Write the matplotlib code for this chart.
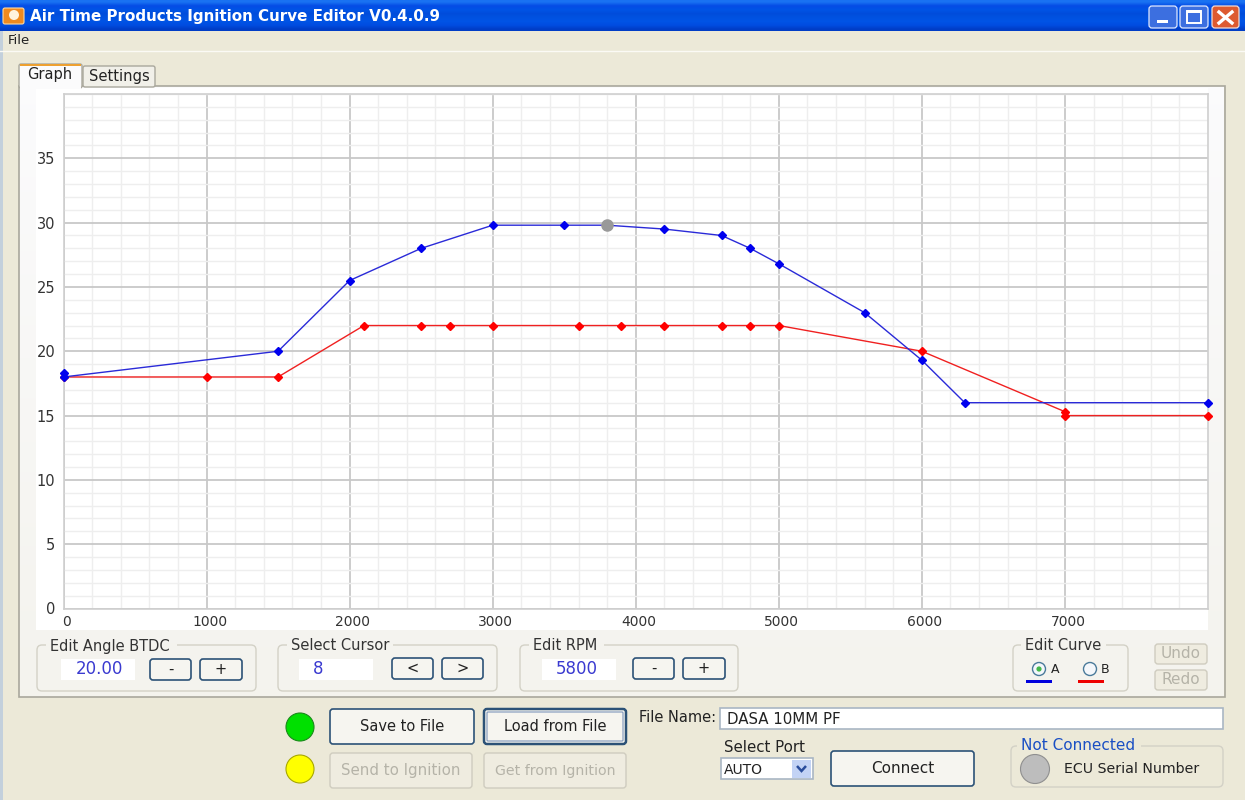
#!/usr/bin/env python3
"""Ignition curve editor window, redrawn with matplotlib"""

import matplotlib
matplotlib.use('Agg')
import matplotlib.pyplot as plt
import numpy as np
from matplotlib.patches import Circle, FancyBboxPatch, Polygon, Rectangle
from matplotlib.transforms import ScaledTranslation

# Curve data
rpm_a = [0, 0, 1500, 2000, 2500, 3000, 3500, 3800, 4200, 4600, 4800, 5000, 5600, 6000, 6300, 8000]
angle_a = [18.3, 18, 20, 25.5, 28, 29.8, 29.8, 29.8, 29.5, 29, 28, 26.8, 23, 19.3, 16, 16]
rpm_b = [0, 1000, 1500, 2100, 2500, 2700, 3000, 3600, 3900, 4200, 4600, 4800, 5000, 6000, 7000, 7000, 8000]
angle_b = [18, 18, 18, 22, 22, 22, 22, 22, 22, 22, 22, 22, 22, 20, 15.3, 15, 15]
cursor_rpm = [3800]
cursor_angle = [29.8]
x_ticks = [0, 1000, 2000, 3000, 4000, 5000, 6000, 7000]
y_ticks = [0, 5, 10, 15, 20, 25, 30, 35]

W, H = 1245, 800
BG = '#ece9d8'
PANEL = '#f4f3ee'
TEXT = '#333333'
FIELD_BLUE = '#3a3ad0'

fig = plt.figure(figsize=(W / 100, H / 100), dpi=100, facecolor=BG)

# Window chrome is laid out in screen pixels
ui = fig.add_axes([0, 0, 1, 1], zorder=0)
ui.axis('off')


def rect(x, y, w, h, fc, ec='none', lw=1.0, z=1):
    ui.add_patch(Rectangle((x, y), w, h, facecolor=fc, edgecolor=ec, linewidth=lw, zorder=z))


def rounded(x, y, w, h, fc, ec, lw=1.0, r=3, z=2):
    ui.add_patch(FancyBboxPatch((x + r, y + r), w - 2 * r, h - 2 * r,
                                boxstyle=f'round,pad={r},rounding_size={r}',
                                facecolor=fc, edgecolor=ec, linewidth=lw, zorder=z))


def label(x, y, s, size=10.5, color=TEXT, ha='center', weight='normal', z=5):
    ui.text(x, y, s, fontsize=size, color=color, ha=ha, va='center', weight=weight, zorder=z)


def button(x, y, w, h, s, enabled=True, focused=False, size=10.5):
    if enabled:
        rounded(x, y, w, h, '#f6f5f0', '#2c5277', lw=1.8 if focused else 1.2)
        if focused:
            rounded(x + 3, y + 3, w - 6, h - 6, 'none', '#7f97bb', lw=0.8, r=1, z=3)
        label(x + w / 2, y + h / 2, s, size=size, color='#222222')
    else:
        rounded(x, y, w, h, '#efece0', '#cfccbf', lw=1.0)
        label(x + w / 2, y + h / 2, s, size=size, color='#b5b3a8')


def group(x, y, w, h, s, gap_w, text_dx=13):
    rounded(x, y, w, h, 'none', '#d3d1c6', lw=1.0, r=5)
    rect(x + text_dx - 4, y - 2, gap_w + 8, 4, PANEL, z=3)
    label(x + text_dx, y + 1, s, size=10.5, ha='left')


# Title bar
blue = np.array([[0.10, 0.45, 0.95], [0.02, 0.30, 0.90], [0.0, 0.33, 0.90], [0.0, 0.30, 0.86],
                 [0.0, 0.32, 0.88], [0.0, 0.33, 0.90], [0.0, 0.30, 0.88], [0.0, 0.24, 0.78]])
ui.imshow(blue[:, None, :], extent=(0, W, 31, 0), aspect='auto', interpolation='bilinear', zorder=1)

# Tab pane fades from near white at the top to the panel grey at the bottom
top_col = np.array([0.985, 0.985, 0.99])
low_col = np.array([0.957, 0.953, 0.933])
fade = np.linspace(0, 1, 64)[:, None, None]
pane = top_col[None, None, :] * (1 - fade) + low_col[None, None, :] * fade
ui.imshow(pane, extent=(19, 1224, 697, 86), aspect='auto', interpolation='bilinear', zorder=1)
ui.set_xlim(0, W)
ui.set_ylim(H, 0)

rect(0, 31, 2.5, H - 31, '#c3d0dc', z=1)
rounded(3, 8, 21, 16, '#f08a1e', '#ffd9a0', lw=0.8, r=2)
ui.add_patch(Circle((14, 15), 5, facecolor='#fff3dd', edgecolor='none', zorder=3))
ui.text(30, 17, 'Air Time Products Ignition Curve Editor V0.4.0.9', fontsize=10.9, color='white',
        weight='bold', ha='left', va='center', zorder=5)

rounded(1149, 6, 28, 22, '#3c6fe0', '#dfe8ff', lw=0.9)
rect(1157, 20, 11, 3, 'white', z=3)
rounded(1180, 6, 28, 22, '#3c6fe0', '#dfe8ff', lw=0.9)
rect(1187, 11, 14, 12, 'none', ec='white', lw=1.4, z=3)
rect(1187, 10, 14, 3, 'white', z=3)
rounded(1212, 6, 27, 22, '#dd5a30', '#f4dcd2', lw=0.9)
ui.plot([1219, 1232], [12, 23], color='white', lw=2.4, zorder=4)
ui.plot([1219, 1232], [23, 12], color='white', lw=2.4, zorder=4)

# Menu bar
ui.plot([0, W], [50.5, 50.5], color='#fbfaf5', lw=1, zorder=2)
label(8, 40, 'File', size=9.5, color='#222222', ha='left')

# Tab pane and tabs
rect(18.5, 86, 1206, 611, 'none', ec='#a9a79c', lw=1.2, z=2)
rect(36, 88, 1172, 542, 'white', z=2)
rounded(83, 66, 72, 21, '#f1f0e9', '#a9a79c', lw=1.0, r=2)
label(119, 76.5, 'Settings', size=10.6, color='#222222')
rounded(19, 64, 63, 24, '#fbfbfc', '#a9a79c', lw=1.0, r=2)
rect(20, 64, 61, 2, '#eda030', z=4)
rect(20, 84, 61, 5, '#fbfbfc', z=4)
label(50, 74, 'Graph', size=10.5, color='#222222')

# Chart, on data scales
x0, x1, y0, y1 = 63.5, 1208, 94, 608.5
ax = fig.add_axes([x0 / W, 1 - y1 / H, (x1 - x0) / W, (y1 - y0) / H], zorder=2, facecolor='white')
ax.set_xlim(0, 8000)
ax.set_ylim(0, 40)
ax.set_xticks(x_ticks)
ax.set_yticks(y_ticks)
ax.set_xticks(np.arange(0, 8001, 200), minor=True)
ax.set_yticks(np.arange(0, 41, 1), minor=True)
ax.grid(True, which='minor', color='#eeeeee', lw=1.0)
ax.grid(True, which='major', color='#c8c8c8', lw=1.3)
ax.set_axisbelow(True)
ax.tick_params(which='both', length=0)
ax.tick_params(axis='x', pad=5, labelsize=10, labelcolor=TEXT)
ax.tick_params(axis='y', pad=6, labelsize=10.5, labelcolor=TEXT)
for side, spine in ax.spines.items():
    spine.set_color('#cfcfcf')
    spine.set_linewidth(1.2)
shift = ScaledTranslation(3 / 100, 0, fig.dpi_scale_trans)
for tick in ax.get_xticklabels():
    tick.set_transform(tick.get_transform() + shift)
ax.plot(rpm_b, angle_b, color='#f02020', lw=1.0, marker='D', ms=4, mfc='#ff0000', mec='#ff0000',
        clip_on=False, zorder=3)
ax.plot(rpm_a, angle_a, color='#2a2ad8', lw=1.0, marker='D', ms=4, mfc='#0000ee', mec='#0000ee',
        clip_on=False, zorder=4)
ax.plot(cursor_rpm, cursor_angle, linestyle='none', marker='o', ms=8, mfc='#999999', mec='#999999', zorder=5)

# Edit groups
group(37, 645, 219, 46, 'Edit Angle BTDC', 123)
rect(61, 659, 74, 21, 'white', z=3)
label(99, 669.5, '20.00', size=12, color=FIELD_BLUE)
button(150, 659, 41, 21, '-')
button(200, 659, 42, 21, '+')

group(278, 645, 219, 46, 'Select Cursor', 98)
rect(299, 659, 74, 21, 'white', z=3)
label(318, 669.5, '8', size=12, color=FIELD_BLUE)
button(392, 658, 41, 21, '<')
button(442, 658, 41, 21, '>')

group(520, 645, 218, 46, 'Edit RPM', 67)
rect(542, 659, 74, 21, 'white', z=3)
label(577, 669.5, '5800', size=12, color=FIELD_BLUE)
button(633, 658, 41, 21, '-')
button(683, 658, 42, 21, '+')

group(1013, 645, 115, 46, 'Edit Curve', 77, text_dx=12)
ui.add_patch(Circle((1039, 669), 6.5, facecolor='#f4f7fb', edgecolor='#4a7a9a', lw=1.0, zorder=3))
ui.add_patch(Circle((1039, 669), 2.6, facecolor='#44b84a', edgecolor='none', zorder=4))
label(1055, 669.5, 'A', size=9, color='#222222')
ui.add_patch(Circle((1090, 669), 6.5, facecolor='#f4f7fb', edgecolor='#4a7a9a', lw=1.0, zorder=3))
label(1105, 669.5, 'B', size=9, color='#222222')
rect(1026, 680, 26, 3, '#0000dd', z=3)
rect(1078, 680, 26, 3, '#ee0000', z=3)
button(1155, 644, 52, 20, 'Undo', enabled=False, size=11)
button(1155, 670, 52, 20, 'Redo', enabled=False, size=11)

# Bottom controls
ui.add_patch(Circle((300, 727), 14, facecolor='#00e000', edgecolor='#1a8a1a', lw=0.8, zorder=3))
ui.add_patch(Circle((300, 769), 14, facecolor='#ffff00', edgecolor='#a8a800', lw=0.8, zorder=3))
button(330, 709, 144, 35, 'Save to File')
button(484, 709, 142, 35, 'Load from File', focused=True)
button(330, 753, 142, 35, 'Send to Ignition', enabled=False, size=10.8)
button(484, 753, 142, 35, 'Get from Ignition', enabled=False, size=10.2)

label(639, 718, 'File Name:', size=10.5, color='#222222', ha='left')
rect(720, 708, 503, 21, 'white', ec='#a9b6c4', lw=1.2, z=2)
label(727, 719, 'DASA 10MM PF', size=10.8, color='#222222', ha='left')

label(765, 747, 'Select Port', size=10.8, color='#222222')
rect(720.5, 758, 92, 21, 'white', ec='#a9b6c4', lw=1.2, z=2)
label(724, 770, 'AUTO', size=10, color='#222222', ha='left')
rect(792, 760, 19, 18, '#c3d3f5', z=3)
ui.add_patch(Polygon([[797, 766], [801.5, 771], [806, 766]], closed=False, fill=False,
                     edgecolor='#2a4d9c', lw=1.8, zorder=4))
button(831, 751, 143, 35, 'Connect', size=11)

rounded(1011, 746, 212, 41, 'none', '#d3d1c6', lw=1.0, r=5)
rect(1017, 743, 124, 6, BG, z=3)
label(1021, 746, 'Not Connected', size=11, color='#1a4fc4', ha='left')
ui.add_patch(Circle((1035, 769), 14.5, facecolor='#bdbdbd', edgecolor='#8f8f8f', lw=0.8, zorder=3))
label(1064, 769, 'ECU Serial Number', size=10.2, color='#222222', ha='left')

plt.savefig('out.png', dpi=100, facecolor=BG)
